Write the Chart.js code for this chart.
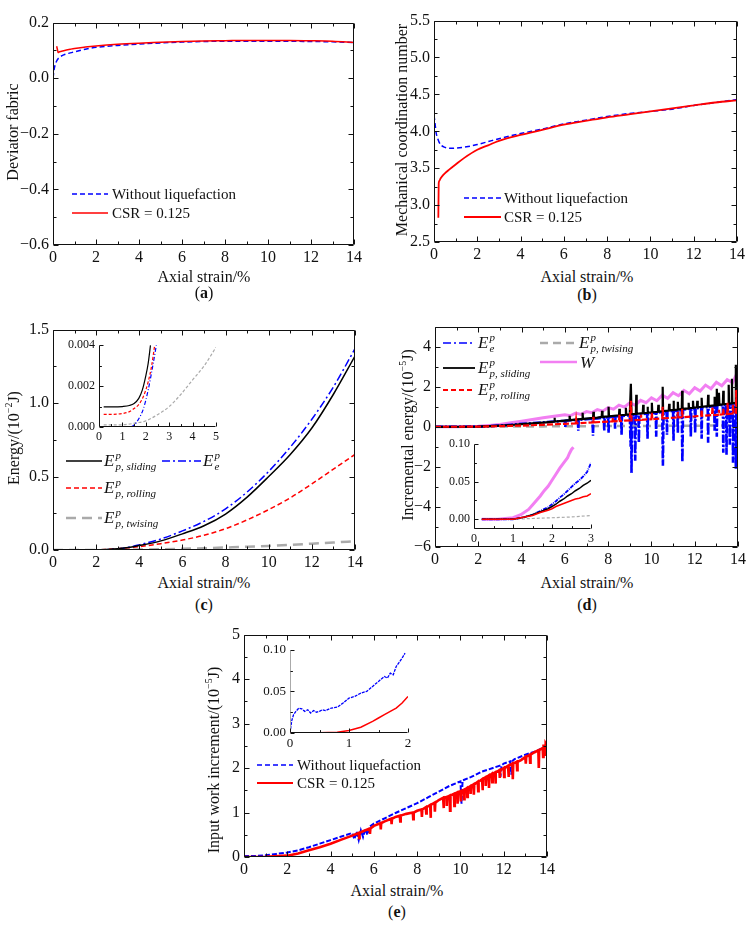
<!DOCTYPE html>
<html>
<head>
<meta charset="utf-8">
<script src="https://cdn.jsdelivr.net/npm/chart.js@4.4.0/dist/chart.umd.min.js"></script>
<style>
body { margin: 0; background: #fff; width: 751px; height: 927px; position: relative; overflow: hidden;
       font-family: "Liberation Serif", "Times New Roman", serif; color: #111; }
canvas { position: absolute; }
.t { position: absolute; white-space: nowrap; line-height: 1; font-size: 16px; }
.c { transform: translate(-50%, -50%); }
.r { transform: translate(-50%, -50%) rotate(-90deg); }
.l { transform: translateY(-50%); font-size: 15px; }
.m { font-size: 17px; font-style: italic; }
.ss { display: inline-block; font-size: 11px; line-height: 11px; vertical-align: -4px; margin-left: 1px; }
.ss span { display: block; }
sup { font-size: 10px; }
</style>
</head>
<body>
<script>
// ---- data (axial strain %, value) ----
const aBlue = [[0,0.0],[0.05,0.03],[0.1,0.048],[0.2,0.066],[0.3,0.075],[0.5,0.084],[0.8,0.091],[1,0.095],[1.5,0.104],[2,0.111],[3,0.118],[4,0.123],[5,0.127],[6,0.13],[7,0.132],[8,0.133],[9,0.133],[10,0.133],[11,0.133],[12,0.132],[13,0.131],[14,0.128]];
const aRed = [[0.17,0.115],[0.2,0.105],[0.24,0.092],[0.3,0.095],[0.5,0.099],[0.8,0.104],[1,0.107],[1.5,0.112],[2,0.116],[3,0.122],[4,0.126],[5,0.129],[6,0.132],[7,0.134],[8,0.135],[9,0.136],[10,0.136],[11,0.136],[12,0.135],[13,0.133],[14,0.128]];

const bBlue = [[0,4.22],[0.05,4.1],[0.1,3.98],[0.2,3.88],[0.3,3.82],[0.45,3.79],[0.6,3.775],[0.8,3.77],[1,3.772],[1.5,3.79],[2,3.82],[2.5,3.86],[3,3.9],[4,3.97],[5,4.03],[6,4.1],[7,4.15],[8,4.2],[9,4.24],[10,4.27],[11,4.3],[12,4.35],[13,4.39],[14,4.43]];
const bRed = [[0.2,2.83],[0.21,3.1],[0.22,3.3],[0.25,3.33],[0.3,3.36],[0.4,3.4],[0.5,3.43],[0.7,3.48],[1,3.55],[1.4,3.64],[2,3.75],[2.5,3.81],[3,3.87],[4,3.95],[5,4.02],[6,4.09],[7,4.14],[8,4.19],[9,4.23],[10,4.27],[11,4.31],[12,4.35],[13,4.39],[14,4.42]];

const cStrain = [0,1,2,2.5,3,3.5,4,5,6,7,8,9,10,11,12,13,14];
const cEe = [0,0,0,0.002,0.008,0.018,0.035,0.075,0.13,0.195,0.28,0.395,0.535,0.7,0.89,1.11,1.37];
const cSliding = [0,0,0.001,0.004,0.009,0.017,0.03,0.062,0.11,0.165,0.245,0.36,0.5,0.65,0.83,1.06,1.32];
const cRolling = [0,0,0.001,0.004,0.009,0.015,0.023,0.043,0.068,0.1,0.145,0.205,0.275,0.355,0.45,0.55,0.65];
const cTwising = [0,0,0,0,0.001,0.002,0.003,0.005,0.008,0.012,0.017,0.022,0.028,0.035,0.043,0.051,0.06];

const cInSliding = [[0.2,0.00098],[0.6,0.00098],[1.0,0.001],[1.3,0.00105],[1.5,0.00115],[1.7,0.0014],[1.85,0.0018],[2.0,0.0025],[2.1,0.0031],[2.2,0.004]];
const cInRolling = [[0.2,0.00062],[0.6,0.00062],[1.0,0.00066],[1.3,0.00075],[1.5,0.0009],[1.7,0.0011],[1.9,0.0015],[2.1,0.0022],[2.25,0.003],[2.38,0.004]];
const cInEe = [[0.2,0],[1.0,0],[1.3,0],[1.5,0.0001],[1.7,0.0004],[1.9,0.0009],[2.1,0.0018],[2.3,0.003],[2.45,0.004]];
const cInTwising = [[0.2,0.0001],[0.8,0.0001],[1.2,0.00013],[1.6,0.0002],[2,0.0003],[2.5,0.0006],[3,0.001],[3.5,0.0016],[4,0.0023],[4.5,0.003],[5,0.0039]];

const dEe = [[0,0],[1,0],[2,0.01],[2.5,0.03],[3,0.06],[3.5,0.1],[4,0.15],[4.5,0.18],[5,0.22],[5.5,0.26],[6,0.3],[6.02,0.0],[6.04,0.3],[6.5,0.34],[6.6,0.35],[6.62,-0.2],[6.64,0.35],[7,0.38],[7.28,0.4],[7.3,-0.45],[7.32,0.4],[7.5,0.42],[7.8,0.45],[7.82,-0.2],[7.84,0.45],[8,0.48],[8.02,-0.3],[8.04,0.48],[8.3,0.51],[8.32,-0.1],[8.34,0.51],[8.5,0.53],[8.6,0.54],[8.62,-0.4],[8.64,0.54],[9,0.58],[9.04,-1.0],[9.06,0.58],[9.08,-2.3],[9.1,0.58],[9.22,0.6],[9.25,-1.7],[9.28,0.6],[9.4,0.61],[9.42,-0.8],[9.44,0.61],[9.5,0.63],[9.8,0.66],[9.82,-0.6],[9.84,0.66],[10,0.68],[10.2,0.7],[10.22,-0.5],[10.24,0.7],[10.5,0.74],[10.53,-1.95],[10.56,0.74],[10.7,0.76],[10.72,-0.4],[10.74,0.76],[11,0.8],[11.02,-0.7],[11.04,0.8],[11.2,0.82],[11.22,-0.3],[11.24,0.82],[11.4,0.85],[11.43,-1.75],[11.46,0.85],[11.8,0.9],[11.82,-0.5],[11.84,0.9],[12,0.92],[12.02,-0.3],[12.04,0.92],[12.3,0.95],[12.32,-0.6],[12.34,0.95],[12.6,0.99],[12.62,-0.8],[12.64,0.99],[12.9,1.04],[12.92,-0.2],[12.94,1.04],[13,1.05],[13.02,-0.5],[13.04,1.05],[13.3,1.09],[13.32,-1.3],[13.34,1.09],[13.45,1.11],[13.47,-1.4],[13.49,1.11],[13.6,1.13],[13.62,-0.9],[13.64,1.13],[13.75,1.15],[13.77,-1.8],[13.79,1.15],[13.88,1.17],[13.9,-2.1],[13.92,1.5],[13.96,1.2],[14,1.2]];
const dSliding = [[0,0],[2,0.01],[2.5,0.03],[3,0.06],[3.5,0.09],[4,0.13],[4.5,0.17],[5,0.21],[5.5,0.26],[5.52,0.45],[5.54,0.26],[6,0.31],[6.2,0.33],[6.22,0.55],[6.24,0.33],[6.5,0.36],[6.8,0.39],[6.82,0.7],[6.84,0.39],[7,0.41],[7.3,0.44],[7.32,0.75],[7.34,0.44],[7.5,0.46],[7.7,0.49],[7.72,0.8],[7.74,0.49],[8,0.52],[8.02,1.0],[8.04,0.52],[8.5,0.57],[8.52,0.9],[8.54,0.57],[8.8,0.6],[8.82,0.95],[8.84,0.6],[9,0.62],[9.05,2.15],[9.08,0.62],[9.28,0.65],[9.3,1.6],[9.32,0.65],[9.6,0.68],[9.62,1.1],[9.64,0.68],[9.8,0.7],[9.82,1.0],[9.84,0.7],[10,0.72],[10.02,1.2],[10.04,0.72],[10.3,0.75],[10.32,1.1],[10.34,0.75],[10.5,0.78],[10.52,2.0],[10.54,0.78],[10.8,0.81],[10.82,1.15],[10.84,0.81],[11,0.84],[11.02,1.3],[11.04,0.84],[11.2,0.86],[11.22,1.25],[11.24,0.86],[11.4,0.89],[11.42,1.8],[11.44,0.89],[11.7,0.92],[11.72,1.2],[11.74,0.92],[11.9,0.95],[11.92,1.3],[11.94,0.95],[12.1,0.97],[12.12,1.3],[12.14,0.97],[12.3,1.0],[12.32,1.45],[12.34,1.0],[12.6,1.03],[12.62,1.6],[12.64,1.03],[12.9,1.07],[12.92,1.5],[12.94,1.07],[13,1.08],[13.02,1.9],[13.04,1.08],[13.1,1.09],[13.12,1.7],[13.14,1.09],[13.3,1.12],[13.32,1.8],[13.34,1.12],[13.55,1.15],[13.57,2.1],[13.59,1.15],[13.7,1.17],[13.72,2.4],[13.74,1.17],[13.88,1.19],[13.9,3.1],[13.92,1.2],[14,1.2]];
const dRolling = [[0,0],[2,0.005],[3,0.03],[4,0.06],[5,0.1],[6,0.15],[6.5,0.17],[6.52,0.35],[6.54,0.17],[7,0.2],[7.3,0.22],[7.32,0.5],[7.34,0.22],[8,0.26],[8.2,0.27],[8.22,0.45],[8.24,0.27],[8.5,0.29],[8.52,0.6],[8.54,0.29],[9,0.32],[9.05,1.3],[9.08,0.32],[9.5,0.35],[9.52,0.6],[9.54,0.35],[10,0.38],[10.02,0.7],[10.04,0.38],[10.5,0.42],[10.52,1.0],[10.54,0.42],[11,0.45],[11.2,0.47],[11.22,0.75],[11.24,0.47],[11.4,0.48],[11.42,0.9],[11.44,0.48],[12,0.52],[12.3,0.55],[12.32,0.85],[12.34,0.55],[12.8,0.58],[12.82,1.0],[12.84,0.58],[13.1,0.6],[13.12,0.85],[13.14,0.6],[13.3,0.62],[13.32,0.9],[13.34,0.62],[13.5,0.64],[13.52,1.2],[13.54,0.64],[13.75,0.66],[13.77,1.1],[13.79,0.66],[13.9,0.68],[13.92,1.85],[13.94,0.68],[14,0.7]];
const dTwising = [[0,0],[3,0.01],[5,0.02],[7,0.03],[9,0.04],[11,0.05],[13,0.06],[14,0.07]];
const dW = [[0,0],[1,0.005],[2,0.03],[2.5,0.07],[3,0.12],[3.5,0.2],[4,0.28],[4.5,0.36],[5,0.45],[5.5,0.53],[6,0.6],[6.25,0.55],[6.5,0.68],[6.75,0.62],[7,0.76],[7.25,0.7],[7.5,0.86],[7.75,0.78],[8,0.96],[8.25,0.88],[8.5,1.08],[8.75,0.98],[9,1.2],[9.25,1.08],[9.5,1.32],[9.75,1.2],[10,1.45],[10.25,1.3],[10.5,1.58],[10.75,1.42],[11,1.7],[11.25,1.55],[11.5,1.82],[11.75,1.65],[12,1.95],[12.25,1.78],[12.5,2.08],[12.75,1.9],[13,2.22],[13.25,2.05],[13.5,2.35],[13.75,2.2],[13.9,2.55],[14,2.45]];

const dInW = [[0.2,0],[0.6,0],[1.0,0.002],[1.2,0.006],[1.4,0.013],[1.5,0.019],[1.6,0.025],[1.7,0.031],[1.8,0.038],[1.9,0.044],[2.0,0.052],[2.1,0.06],[2.2,0.068],[2.3,0.075],[2.4,0.082],[2.45,0.088],[2.5,0.093],[2.55,0.096]];
const dInStrain = [0.2,1.0,1.3,1.5,1.7,1.9,2.0,2.1,2.2,2.3,2.4,2.5,2.6,2.7,2.8,2.9,3.0];
const dInEe = [0,0,0.003,0.006,0.011,0.016,0.02,0.024,0.029,0.033,0.038,0.043,0.048,0.052,0.057,0.063,0.075];
const dInSliding = [0,0,0.003,0.006,0.01,0.014,0.017,0.02,0.024,0.027,0.031,0.034,0.038,0.041,0.045,0.048,0.052];
const dInRolling = [0,0,0.003,0.005,0.009,0.012,0.014,0.017,0.019,0.021,0.023,0.025,0.027,0.028,0.03,0.031,0.034];
const dInTwising = [[0.2,0],[1,0],[1.5,0.001],[2,0.002],[2.5,0.003],[3,0.005]];

const eBlue = [[0,0.02],[0.5,0.02],[1,0.04],[1.5,0.07],[2,0.1],[2.5,0.15],[3,0.22],[3.5,0.3],[4,0.38],[4.5,0.46],[5,0.54],[5.1,0.4],[5.2,0.57],[5.3,0.38],[5.4,0.6],[5.5,0.45],[5.6,0.63],[5.7,0.5],[5.8,0.68],[6,0.75],[6.5,0.87],[7,0.99],[7.5,1.1],[8,1.21],[8.5,1.34],[9,1.47],[9.5,1.6],[10,1.7],[10.05,1.2],[10.1,1.72],[10.5,1.8],[11,1.92],[11.5,2.0],[11.8,2.05],[11.85,1.8],[11.9,2.06],[12,2.1],[12.3,2.15],[12.35,1.85],[12.4,2.16],[12.5,2.2],[13,2.3],[13.5,2.38],[14,2.5]];
const eRed = [[0,0],[1,0.005],[2,0.03],[2.5,0.08],[3,0.15],[3.5,0.22],[4,0.3],[4.5,0.39],[5,0.48],[5.3,0.54],[5.32,0.42],[5.34,0.54],[5.5,0.58],[5.8,0.64],[5.82,0.52],[5.84,0.64],[6,0.7],[6.3,0.76],[6.32,0.62],[6.34,0.76],[6.5,0.8],[6.8,0.86],[6.82,0.74],[6.84,0.86],[7,0.9],[7.2,0.93],[7.22,0.8],[7.24,0.93],[7.5,0.97],[7.8,1.0],[7.82,0.85],[7.84,1.0],[8,1.04],[8.2,1.07],[8.22,0.9],[8.24,1.07],[8.4,1.12],[8.42,0.98],[8.44,1.12],[8.6,1.17],[8.62,0.88],[8.64,1.17],[8.8,1.22],[8.82,1.02],[8.84,1.22],[9,1.28],[9.2,1.33],[9.22,1.1],[9.24,1.33],[9.35,1.35],[9.37,1.15],[9.39,1.35],[9.5,1.38],[9.52,1.04],[9.54,1.38],[9.7,1.42],[9.72,1.15],[9.74,1.42],[9.85,1.45],[9.87,1.2],[9.89,1.45],[10,1.48],[10.02,1.25],[10.04,1.48],[10.15,1.51],[10.17,1.3],[10.19,1.51],[10.3,1.55],[10.32,1.35],[10.34,1.55],[10.45,1.59],[10.47,1.42],[10.49,1.59],[10.6,1.63],[10.62,1.4],[10.64,1.63],[10.8,1.69],[10.82,1.48],[10.84,1.69],[11,1.75],[11.02,1.5],[11.04,1.75],[11.15,1.79],[11.17,1.6],[11.19,1.79],[11.3,1.83],[11.32,1.55],[11.34,1.83],[11.45,1.87],[11.47,1.68],[11.49,1.87],[11.6,1.9],[11.62,1.65],[11.64,1.9],[11.8,1.95],[11.82,1.78],[11.84,1.95],[12,2.0],[12.02,1.8],[12.04,2.0],[12.2,2.05],[12.22,1.8],[12.24,2.05],[12.4,2.1],[12.42,1.75],[12.44,2.1],[12.6,2.14],[12.62,1.95],[12.64,2.14],[12.8,2.18],[13,2.25],[13.02,2.1],[13.04,2.25],[13.2,2.3],[13.22,2.12],[13.24,2.3],[13.4,2.35],[13.6,2.4],[13.62,2.0],[13.64,2.4],[13.8,2.45],[13.82,2.25],[13.84,2.5],[13.9,2.5],[13.92,2.3],[13.94,2.55],[14,2.5]];

const eInBlue = [[0,0],[0.03,0.015],[0.06,0.022],[0.1,0.026],[0.15,0.03],[0.2,0.029],[0.25,0.026],[0.3,0.028],[0.35,0.024],[0.4,0.027],[0.45,0.025],[0.5,0.026],[0.55,0.028],[0.6,0.027],[0.7,0.03],[0.8,0.031],[0.9,0.036],[1.0,0.042],[1.1,0.044],[1.2,0.048],[1.3,0.05],[1.4,0.056],[1.5,0.062],[1.6,0.068],[1.65,0.066],[1.7,0.072],[1.75,0.07],[1.8,0.08],[1.85,0.085],[1.9,0.09],[1.95,0.096]];
const eInRed = [[0,0],[0.5,0.0003],[0.8,0.001],[1.0,0.003],[1.2,0.007],[1.4,0.014],[1.5,0.018],[1.6,0.022],[1.7,0.026],[1.8,0.03],[1.9,0.036],[2.0,0.044]];

const xTicksMain = [0,2,4,6,8,10,12,14];
const aYTicks = [-0.6,-0.4,-0.2,0,0.2];
const bYTicks = [2.5,3,3.5,4,4.5,5,5.5];
const cYTicks = [0,0.5,1,1.5];
const dYTicks = [-6,-4,-2,0,2,4];
const eYTicks = [0,1,2,3,4,5];

// ---- helpers ----
const FONT = '"Liberation Serif", "Times New Roman", serif';
const BLUE = '#0000ff', RED = '#ff0000', BLACK = '#000', GRAY = '#aaaaaa', VIOLET = '#f27ff2';

const framePlugin = {
    id: 'frame',
    afterDraw(chart, args, o) {
        const ctx = chart.ctx, a = chart.chartArea, xs = chart.scales.x, ys = chart.scales.y;
        const L = Math.round(a.left) + 0.5, R = Math.round(a.right) - 0.5;
        const T = Math.round(a.top) + 0.5, B = Math.round(a.bottom) - 0.5;
        ctx.save();
        ctx.lineWidth = 1;
        ctx.strokeStyle = '#111';
        ctx.beginPath();
        if (o.box) ctx.rect(L, T, R - L, B - T);
        else { ctx.moveTo(L, B); ctx.lineTo(R, B); }
        ctx.stroke();
        if (!o.box) {
            ctx.strokeStyle = o.leftColor || '#111';
            ctx.beginPath(); ctx.moveTo(L, T); ctx.lineTo(L, B); ctx.stroke();
            ctx.strokeStyle = '#111';
        }
        const isMajor = (scale, v) => scale.ticks.some(t => Math.abs(t.value - v) < 1e-9);
        ctx.beginPath();
        for (let k = Math.ceil(xs.min / o.xMinor - 1e-6); k * o.xMinor <= xs.max + 1e-9; k++) {
            const v = k * o.xMinor, px = Math.round(xs.getPixelForValue(v)) + 0.5;
            const len = isMajor(xs, v) ? o.len : o.len * 0.6;
            ctx.moveTo(px, B); ctx.lineTo(px, B - len);
            if (o.box) { ctx.moveTo(px, T); ctx.lineTo(px, T + len); }
        }
        for (let k = Math.ceil(ys.min / o.yMinor - 1e-6); k * o.yMinor <= ys.max + 1e-9; k++) {
            const v = k * o.yMinor, py = Math.round(ys.getPixelForValue(v)) + 0.5;
            const len = isMajor(ys, v) ? o.len : o.len * 0.6;
            ctx.moveTo(L, py); ctx.lineTo(L + len, py);
            if (o.box) { ctx.moveTo(R, py); ctx.lineTo(R - len, py); }
        }
        ctx.stroke();
        ctx.restore();
    }
};

function fmt(v, dec) {
    return v.toFixed(dec).replace('-', '\u2212');
}

function axis(a, size, horiz, fs) {
    return {
        type: 'linear', min: a.min, max: a.max,
        grid: { display: false, drawTicks: false },
        border: { display: false },
        ticks: {
            font: { size: fs, family: FONT }, color: '#111',
            padding: horiz ? 3 : 4, maxRotation: 0, autoSkip: false,
            callback: v => fmt(v, a.dec)
        },
        afterBuildTicks: s => { s.ticks = a.ticks.map(v => ({ value: v })); },
        afterFit: s => { if (horiz) s.height = size; else s.width = size; }
    };
}

function panel(box, datasets, x, y, frame) {
    const c = document.createElement('canvas');
    const W = box.w + box.pl + box.pr, H = box.h + box.pt + box.pb;
    c.width = W; c.height = H;
    c.style.left = (box.l - box.pl) + 'px';
    c.style.top = (box.t - box.pt) + 'px';
    c.style.width = W + 'px';
    c.style.height = H + 'px';
    document.body.appendChild(c);
    return new Chart(c, {
        type: 'line',
        data: { datasets },
        options: {
            responsive: false, animation: false, devicePixelRatio: 1,
            layout: { padding: { top: box.pt, right: box.pr, left: 0, bottom: 0 } },
            plugins: { legend: { display: false }, tooltip: { enabled: false }, frame },
            elements: { point: { radius: 0 } },
            scales: { x: axis(x, box.pb, true, box.fs), y: axis(y, box.pl, false, box.fs) }
        },
        plugins: [framePlugin]
    });
}

function line(pairs, color, width, dash, smooth) {
    return {
        data: pairs.map(p => ({ x: p[0], y: p[1] })),
        borderColor: color, borderWidth: width, borderDash: dash || [],
        fill: false, pointRadius: 0,
        tension: smooth ? 0.4 : 0, cubicInterpolationMode: smooth ? 'monotone' : 'default'
    };
}
const zip = (xs, ys) => xs.map((x, i) => [x, ys[i]]);

function text(x, y, html, cls) {
    const d = document.createElement('div');
    d.className = 't ' + cls;
    d.style.left = x + 'px';
    d.style.top = y + 'px';
    d.innerHTML = html;
    document.body.appendChild(d);
}
function sample(x1, x2, y, color, dash, w) {
    const s = document.createElementNS('http://www.w3.org/2000/svg', 'svg');
    s.setAttribute('width', x2 - x1);
    s.setAttribute('height', 10);
    s.style.cssText = 'position:absolute;left:' + x1 + 'px;top:' + (y - 5) + 'px';
    s.innerHTML = '<line x1="0" y1="5" x2="' + (x2 - x1) + '" y2="5" stroke="' + color +
        '" stroke-width="' + w + '" stroke-dasharray="' + dash.join(' ') + '"/>';
    document.body.appendChild(s);
}
const E = sub => '<span class="m">E<span class="ss"><span>p</span><span>' + sub + '</span></span></span>';

// ---- main panels ----
const mainBox = (l, t, w, h) => ({ l, t, w, h, pl: 42, pr: 12, pt: 10, pb: 24, fs: 16 });
const inBox = (l, t, w, h, fs) => ({ l, t, w, h, pl: 38, pr: 10, pt: 8, pb: 18, fs });
const mainFrame = (yMinor) => ({ box: true, xMinor: 1, yMinor, len: 5 });
const xMain = { min: 0, max: 14, ticks: xTicksMain, dec: 0 };

// (a)
panel(mainBox(53, 19, 301, 226),
    [line(aRed, RED, 1.5, null, true), line(aBlue, BLUE, 1.5, [5, 3], true)],
    xMain, { min: -0.6, max: 0.2, ticks: aYTicks, dec: 1 }, mainFrame(0.1));

// (b)
panel(mainBox(434, 17, 303, 225),
    [line(bRed, RED, 1.8, null, true), line(bBlue, BLUE, 1.5, [5, 3], true)],
    xMain, { min: 2.5, max: 5.5, ticks: bYTicks, dec: 1 }, mainFrame(0.25));

// (c)
panel(mainBox(53, 326, 302, 224),
    [line(zip(cStrain, cSliding), BLACK, 1.5, null, true),
     line(zip(cStrain, cEe), BLUE, 1.5, [8, 3, 2, 3], true),
     line(zip(cStrain, cRolling), RED, 1.5, [5, 3], true),
     line(zip(cStrain, cTwising), GRAY, 2.5, [10, 6], true)],
    xMain, { min: 0, max: 1.5, ticks: cYTicks, dec: 1 }, mainFrame(0.25));
panel(inBox(99, 342, 117, 85, 12),
    [line(cInSliding, BLACK, 1.2, null, true),
     line(cInRolling, RED, 1.2, [3, 2], true),
     line(cInEe, BLUE, 1.2, [4, 2, 1, 2], true),
     line(cInTwising, GRAY, 1.2, [3, 2], true)],
    { min: 0, max: 5, ticks: [0, 1, 2, 3, 4, 5], dec: 0 },
    { min: 0, max: 0.004, ticks: [0, 0.002, 0.004], dec: 3 },
    { box: false, xMinor: 0.5, yMinor: 0.001, len: 4 });

// (d)
panel(mainBox(435, 323, 303, 224),
    [line(dRolling, RED, 2.2, [6, 2]),
     line(dSliding, BLACK, 2.2),
     line(dEe, BLUE, 2.6, [8, 2, 2, 2]),
     line(dW, VIOLET, 3),
     line(dTwising, GRAY, 2.5, [8, 5])],
    xMain, { min: -6, max: 5, ticks: dYTicks, dec: 0 }, mainFrame(1));
panel(inBox(474, 441, 117, 88, 12),
    [line(zip(dInStrain, dInRolling), RED, 1.5),
     line(zip(dInStrain, dInSliding), BLACK, 1.5),
     line(zip(dInStrain, dInEe), BLUE, 1.8, [4, 1, 1, 1]),
     line(dInW, VIOLET, 3),
     line(dInTwising, GRAY, 1.2, [3, 2])],
    { min: 0, max: 3, ticks: [0, 1, 2, 3], dec: 0 },
    { min: -0.013, max: 0.1, ticks: [0, 0.05, 0.1], dec: 2 },
    { box: false, xMinor: 0.5, yMinor: 0.025, len: 4 });

// (e)
panel(mainBox(244, 631, 303, 226),
    [line(eRed, RED, 2.6), line(eBlue, BLUE, 2, [5, 2])],
    xMain, { min: 0, max: 5, ticks: eYTicks, dec: 0 }, mainFrame(0.5));
panel(inBox(290, 646, 118, 87, 13),
    [line(eInRed, RED, 1.5), line(eInBlue, BLUE, 1.3, [3, 1])],
    { min: 0, max: 2, ticks: [0, 1, 2], dec: 0 },
    { min: 0, max: 0.1, ticks: [0, 0.05, 0.1], dec: 2 },
    { box: false, xMinor: 0.5, yMinor: 0.025, len: 4, leftColor: '#aaaaaa' });

// ---- axis titles & panel labels ----
text(13, 132, 'Deviator fabric', 'r');
text(204, 277, 'Axial strain/%', 'c');
text(204, 293, '(<b>a</b>)', 'c');
text(402, 130, 'Mechanical coordination number', 'r');
text(587, 277, 'Axial strain/%', 'c');
text(587, 295, '(<b>b</b>)', 'c');
text(13, 438, 'Energy/(10<sup>\u22122</sup>J)', 'r');
text(204, 583, 'Axial strain/%', 'c');
text(204, 605, '(<b>c</b>)', 'c');
text(407, 435, 'Incremental energy/(10<sup>\u22125</sup>J)', 'r');
text(587, 583, 'Axial strain/%', 'c');
text(587, 605, '(<b>d</b>)', 'c');
text(213, 760, 'Input work increment/(10<sup>\u22125</sup>J)', 'r');
text(397, 891, 'Axial strain/%', 'c');
text(397, 912, '(<b>e</b>)', 'c');

// ---- legends ----
sample(72, 108, 194, BLUE, [5, 3], 1.5); text(112, 194, 'Without liquefaction', 'l');
sample(72, 108, 213, RED, [], 1.5); text(112, 213, 'CSR = 0.125', 'l');

sample(464, 501, 198, BLUE, [5, 3], 1.5); text(504, 198, 'Without liquefaction', 'l');
sample(464, 501, 217, RED, [], 2); text(504, 217, 'CSR = 0.125', 'l');

sample(66, 102, 461, BLACK, [], 1.5); text(104, 461, E('p, sliding'), 'l');
sample(162, 201, 461, BLUE, [8, 3, 2, 3], 1.5); text(203, 461, E('e'), 'l');
sample(66, 102, 488, RED, [5, 3], 1.5); text(104, 488, E('p, rolling'), 'l');
sample(66, 102, 518, GRAY, [10, 6], 2.5); text(104, 518, E('p, twising'), 'l');

sample(443, 475, 343, BLUE, [8, 3, 2, 3], 1.5); text(478, 343, E('e'), 'l');
sample(443, 475, 368, BLACK, [], 1.8); text(478, 368, E('p, sliding'), 'l');
sample(443, 475, 390, RED, [5, 3], 1.8); text(478, 390, E('p, rolling'), 'l');
sample(540, 577, 343, GRAY, [8, 5], 2.5); text(579, 343, E('p, twising'), 'l');
sample(540, 577, 362, VIOLET, [], 2.5); text(580, 362, '<span class="m">W</span>', 'l');

sample(257, 293, 765, BLUE, [5, 3], 1.5); text(297, 765, 'Without liquefaction', 'l');
sample(257, 293, 783, RED, [], 2); text(297, 783, 'CSR = 0.125', 'l');
</script>
</body>
</html>
